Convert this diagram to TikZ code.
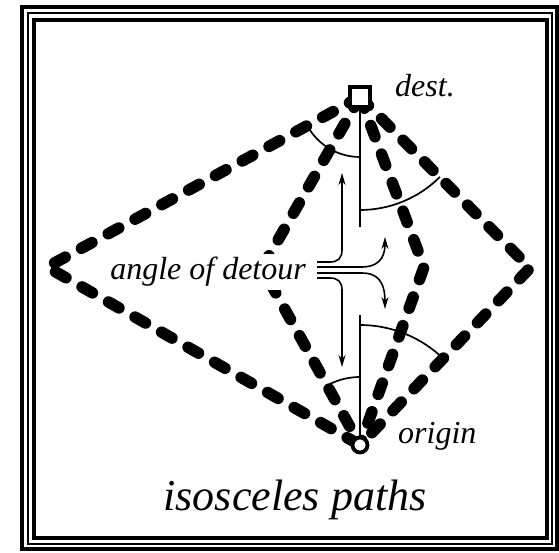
\documentclass[tikz,border=0pt]{standalone}
\usepackage{fontspec}
\setmainfont{Liberation Serif}
\usetikzlibrary{arrows.meta}
\begin{document}
\begin{tikzpicture}[x=1pt,y=1pt,
  framethick/.style={line width=3.2pt},
  framethin/.style={line width=1.2pt},
  pathdash/.style={line width=11.5pt, line cap=round, line join=round, dash pattern=on 12pt off 18.5pt},
  thinline/.style={line width=1.7pt},
  detour/.style={line width=1.6pt, -{Stealth[length=12pt,width=7pt]}},
  lbl/.style={inner sep=0pt, font=\fontsize{32}{36}\selectfont\itshape},
  endsq/.style={draw, rectangle, line width=3.8pt, minimum size=20pt, inner sep=0pt, fill=white},
  endci/.style={draw, circle, line width=3.8pt, minimum size=15pt, inner sep=0pt, fill=white}]
\useasboundingbox (0,0) rectangle (559,552);
\fill[white] (0,0) rectangle (559,552);
% frame
\draw[framethick] (22,3) rectangle (557,545);
\draw[framethin] (28,8) rectangle (552,539);
\draw[framethick] (34,14) rectangle (547,532);
% points
\coordinate (L) at (47,285);
\coordinate (R) at (530,284);
\coordinate (IL) at (262,284);
\coordinate (IR) at (424,285);
\coordinate (D) at (360,455);
\coordinate (O) at (360,107);
% dashed paths
\draw[pathdash] (D) -- (L) -- (O);
\draw[pathdash] (D) -- (R) -- (O);
\draw[pathdash] (D) -- (IL) -- (O);
\draw[pathdash] (D) -- (IR) -- (O);
% end nodes
\node[endsq] (dest) at (D) {};
\node[endci] (origin) at (O) {};
% vertical line
\coordinate (vtop) at (360,325);
\coordinate (vbot) at (360,237);
\draw[thinline] (dest.south) -- (vtop);
\draw[thinline] (vbot) -- (origin.north);
% angle arcs
\draw[thinline] (D) ++(270:60) arc[start angle=270,end angle=209,radius=60];
\draw[thinline] (D) ++(270:113) arc[start angle=270,end angle=315,radius=113];
\draw[thinline] (O) ++(90:120) arc[start angle=90,end angle=46,radius=120];
\draw[thinline] (O) ++(90:68) arc[start angle=90,end angle=117,radius=68];
% detour arrows
\coordinate (b1) at (317,290);
\coordinate (b2) at (317,285);
\coordinate (b3) at (317,279);
\coordinate (b4) at (317,274);
\coordinate (t1) at (342,379);
\coordinate (t2) at (385,315);
\coordinate (t3) at (385,243);
\coordinate (t4) at (342,185);
\draw[detour] (b1) -- (330,290) .. controls (338,290) and (342,294) .. (342,302) -- (t1);
\draw[detour] (b2) -- (362,285) .. controls (376,285) and (385,292) .. (t2);
\draw[detour] (b3) -- (362,279) .. controls (376,279) and (385,272) .. (t3);
\draw[detour] (b4) -- (330,274) .. controls (338,274) and (342,270) .. (342,262) -- (t4);
% labels
\node[lbl, anchor=base east, fill=white, inner xsep=1pt, inner ysep=3pt] (angle) at (307,272) {angle of detour};
\node[lbl, anchor=base west] (destl) at (395,455) {dest.};
\node[lbl, anchor=base west] (origl) at (398,109) {origin};
\node[inner sep=0pt, font=\fontsize{44}{50}\selectfont\itshape, anchor=base] (title) at (295,42) {isosceles paths};
\end{tikzpicture}
\end{document}
